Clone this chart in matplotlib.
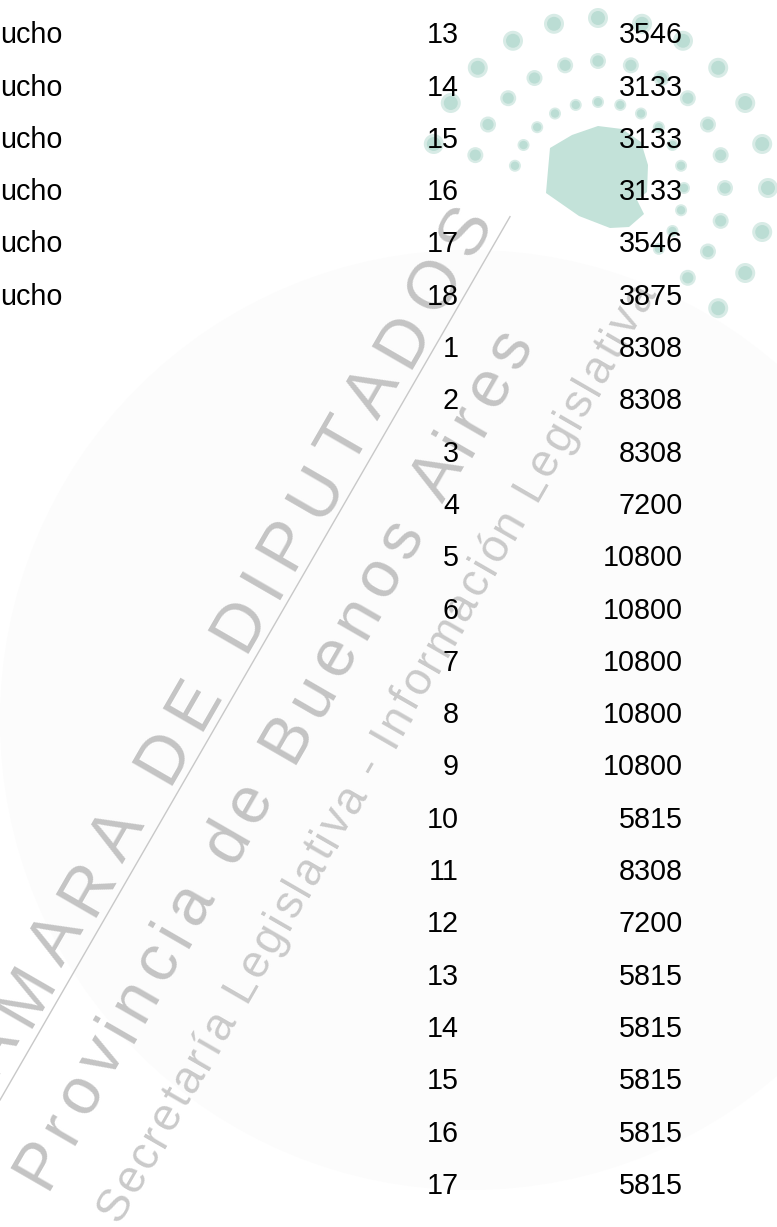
import numpy as np
import matplotlib.pyplot as plt
from matplotlib.patches import Circle, Polygon
from matplotlib.font_manager import FontProperties, findfont, get_font

# table content as it shows on the page (first column is cut at the left edge)
partido = ['ucho', 'ucho', 'ucho', 'ucho', 'ucho', 'ucho']
circuito = [13, 14, 15, 16, 17, 18, 1, 2, 3, 4, 5, 6, 7, 8, 9, 10, 11, 12, 13, 14, 15, 16, 17]
electores = [3546, 3133, 3133, 3133, 3546, 3875, 8308, 8308, 8308, 7200, 10800, 10800, 10800,
             10800, 10800, 5815, 8308, 7200, 5815, 5815, 5815, 5815, 5815]

# watermark texts
wm_title = 'CÁMARA DE DIPUTADOS'
wm_prov = 'Provincia de Buenos Aires'
wm_sec = 'Secretaría Legislativa - Información Legislativa'

# logo outline (province shape), pixel coords
logo_shape = [(550, 148), (572, 135), (598, 126), (622, 129), (641, 142), (648, 165),
              (647, 192), (637, 200), (644, 214), (629, 227), (610, 228), (579, 216),
              (546, 193), (548, 170)]

W, H = 777, 1227
FONT = 'Liberation Sans'

fig = plt.figure(figsize=(W / 100, H / 100), dpi=100)
ax = fig.add_axes([0, 0, 1, 1])
ax.set_xlim(0, W)
ax.set_ylim(H, 0)
ax.axis('off')

# very faint background disc of the watermark
ax.add_patch(Circle((470, 720), 470, color='#fcfcfc', lw=0, zorder=0))

# logo: three rings of soft dots around the province shape
cx, cy = 598, 188
ang = np.radians(np.arange(165, -46, -15))
for r, rad in [(86, 6), (127, 8), (170, 10)]:
    for a in ang:
        x, y = cx + r * np.cos(a), cy - r * np.sin(a)
        ax.add_patch(Circle((x, y), rad, color='#b8dcd2', lw=0, alpha=0.55, zorder=1))
        ax.add_patch(Circle((x, y), rad * 0.7, color='#a9d4c8', lw=0, alpha=0.6, zorder=1))
ax.add_patch(Polygon(logo_shape, closed=True, color='#c3e2d9', lw=0, zorder=1))

# watermark, laid out along a 60 degree baseline
O = np.array([0.0, 1100.0])
d = np.array([0.5, -np.sqrt(3) / 2])
n = np.array([-np.sqrt(3) / 2, -0.5])
ft = get_font(findfont(FontProperties(family=FONT)))


def wm_text(s, px, track, u0, vb, color):
    ft.set_size(px, 72)
    u = u0
    for ch in s:
        adv = ft.load_char(ord(ch)).linearHoriAdvance / 65536
        p = O + u * d + vb * n
        ax.text(p[0], p[1], ch, rotation=60, rotation_mode='anchor', ha='left',
                va='baseline', fontsize=px * 0.72, color=color, family=FONT, zorder=2)
        u += adv + track


def wm_len(s, px, track):
    ft.set_size(px, 72)
    return sum(ft.load_char(ord(c)).linearHoriAdvance / 65536 for c in s) + (len(s) - 1) * track


wm_text(wm_title, 68, 13, 1009 - wm_len(wm_title, 68, 13), 12, '#c4c4c4')
wm_text(wm_prov, 66, 8.5, -56, -85, '#c4c4c4')
wm_text(wm_sec, 46, 2.6, -48, -165, '#cacaca')
ax.plot([0, 510], [1100, 1100 - 510 * np.sqrt(3)], color='#c8c8c8', lw=1, zorder=2)

# the table rows
top, step = 33, 52.3
for i, name in enumerate(partido):
    ax.text(0, top + i * step + 10.3, name, ha='left', va='baseline',
            fontsize=20.7, family=FONT, color='black', zorder=3)
for i, (c, e) in enumerate(zip(circuito, electores)):
    y = top + i * step + 10.3
    ax.text(459, y, str(c), ha='right', va='baseline', fontsize=20.7, family=FONT,
            color='black', zorder=3)
    ax.text(683, y, str(e), ha='right', va='baseline', fontsize=20.7, family=FONT,
            color='black', zorder=3)

fig.savefig('out.png', dpi=100)
